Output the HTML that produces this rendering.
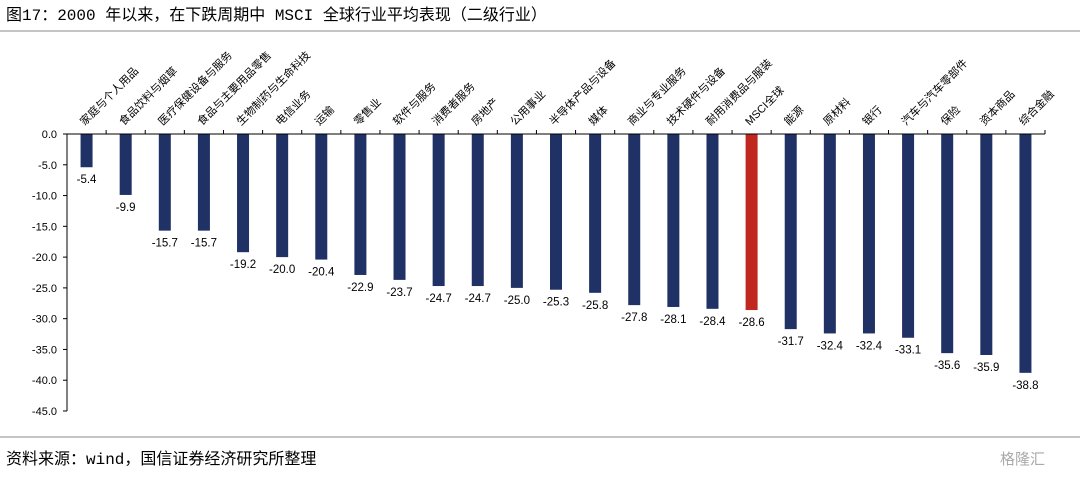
<!DOCTYPE html>
<html><head><meta charset="utf-8"><style>
body{margin:0;background:#fff;width:1080px;height:476px;overflow:hidden;font-family:"Liberation Sans","Noto Sans CJK SC",sans-serif}
</style></head><body>
<svg width="1080" height="476" xmlns="http://www.w3.org/2000/svg">
<text x="6" y="20" font-size="16" fill="#000" font-family="Liberation Mono, Noto Sans CJK SC, monospace">图17：2000 年以来，在下跌周期中 MSCI 全球行业平均表现（二级行业）</text>
<line x1="0" y1="31" x2="1080" y2="31" stroke="#888" stroke-width="1"/>
<g id="plot"></g>
<line x1="0" y1="437" x2="1080" y2="437" stroke="#888" stroke-width="1"/>
<text x="6" y="464" font-size="16" fill="#000" font-family="Liberation Mono, Noto Sans CJK SC, monospace">资料来源：wind，国信证券经济研究所整理</text>
<text x="1000" y="464" font-size="15" fill="#aaa" font-family="Liberation Sans, Noto Sans CJK SC, sans-serif">格隆汇</text>
</svg>
<script>
const categories=["家庭与个人用品","食品饮料与烟草","医疗保健设备与服务","食品与主要用品零售","生物制药与生命科技","电信业务","运输","零售业","软件与服务","消费者服务","房地产","公用事业","半导体产品与设备","媒体","商业与专业服务","技术硬件与设备","耐用消费品与服装","MSCI全球","能源","原材料","银行","汽车与汽车零部件","保险","资本商品","综合金融"];
const values=[-5.4,-9.9,-15.7,-15.7,-19.2,-20.0,-20.4,-22.9,-23.7,-24.7,-24.7,-25.0,-25.3,-25.8,-27.8,-28.1,-28.4,-28.6,-31.7,-32.4,-32.4,-33.1,-35.6,-35.9,-38.8];
const yTicks=[0,-5,-10,-15,-20,-25,-30,-35,-40,-45];
const highlight="MSCI全球";
const NS="http://www.w3.org/2000/svg";
const g=document.getElementById('plot');
const X0=67,X1=1045,Y0=134,Y1=411,YMIN=-45;
const band=(X1-X0)/categories.length;
const y=v=>Y0+(v/YMIN)*(Y1-Y0);
const xc=i=>X0+band*(i+0.5);
function mk(t,a){const e=document.createElementNS(NS,t);for(const k in a)e.setAttribute(k,a[k]);g.appendChild(e);return e;}
const FF="Liberation Sans, Noto Sans CJK SC, sans-serif";
yTicks.forEach(v=>{
 const t=mk('text',{x:X0-10,y:y(v)+4,'text-anchor':'end','font-size':11,fill:'#000','font-family':FF});
 t.textContent=v.toFixed(1);
 
 
 const l=mk('line',{x1:X0-4,x2:X0,y1:y(v),y2:y(v),stroke:'#000'});
 
 
});
const ya=mk('line',{x1:X0,x2:X0,y1:Y0,y2:Y1,stroke:'#000'});


values.forEach((v,i)=>{
 const cx=xc(i);
 const r=mk('rect',{x:cx-6,y:y(0),width:12,height:y(v)-y(0),fill:categories[i]===highlight?'#c0281f':'#1f3165'});
 
 
 const t=mk('text',{x:cx,y:y(v)+16,'text-anchor':'middle','font-size':11.5,fill:'#000','font-family':FF});
 t.textContent=v.toFixed(1);
 
 
 const c=mk('text',{x:0,y:0,'text-anchor':'start','font-size':11,fill:'#000','font-family':FF,transform:`translate(${cx-2},${Y0-8}) rotate(-45)`});
 c.textContent=categories[i];
 
 
 const tk=mk('line',{x1:X0+band*(i+1),x2:X0+band*(i+1),y1:Y0-4,y2:Y0,stroke:'#000'});
 
 
});
const xa=mk('line',{x1:X0,x2:X1,y1:Y0,y2:Y0,stroke:'#000'});


</script>
</body></html>
